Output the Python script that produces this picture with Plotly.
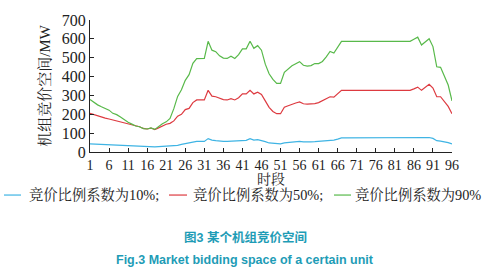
import plotly.graph_objects as go

periods = list(range(1, 97))

space_10 = [43, 42, 41, 40, 39, 38, 36, 35, 34, 33, 32, 31, 30, 29, 28, 27, 27, 27, 28, 29,
            30, 31, 33, 35, 40, 44, 50, 56, 56, 56, 56, 71, 63, 60, 57, 56, 56, 57, 56, 58,
            62, 62, 71, 63, 66, 62, 55, 48, 45, 43, 43, 48, 50, 53, 54, 56, 54, 53, 54, 55,
            56, 58, 61, 62, 63, 68, 75, 75, 75, 75, 75, 75, 75, 75, 75, 75, 75, 75, 75, 75,
            75, 75, 75, 75, 75, 75, 75, 75, 75, 77, 72, 60, 58, 56, 50, 43]

space_50 = [205, 198, 190, 185, 180, 175, 170, 165, 160, 155, 148, 142, 137, 134, 125, 122, 127, 119, 128, 138,
            147, 152, 165, 190, 200, 225, 231, 262, 276, 276, 276, 327, 296, 293, 284, 278, 276, 283, 276, 288,
            308, 308, 327, 308, 317, 305, 271, 237, 215, 203, 203, 237, 245, 254, 260, 266, 256, 254, 255, 257,
            262, 272, 284, 293, 291, 310, 327, 327, 327, 327, 327, 327, 327, 327, 327, 327, 327, 327, 327, 327,
            327, 327, 327, 327, 327, 335, 344, 327, 345, 359, 339, 293, 293, 266, 242, 203]

space_90 = [278, 262, 250, 240, 230, 222, 205, 198, 185, 170, 158, 148, 138, 134, 124, 122, 128, 120, 135, 150,
            160, 178, 230, 295, 330, 380, 410, 470, 495, 496, 496, 587, 540, 532, 510, 498, 496, 508, 496, 516,
            547, 547, 587, 550, 564, 540, 466, 415, 385, 364, 364, 423, 440, 457, 468, 479, 460, 455, 458, 469,
            469, 480, 505, 533, 525, 555, 587, 587, 587, 587, 587, 587, 587, 587, 587, 587, 587, 587, 587, 587,
            587, 587, 587, 587, 587, 598, 609, 567, 585, 601, 559, 452, 449, 406, 355, 271]

series_names = ["竞价比例系数为10%;", "竞价比例系数为50%;", "竞价比例系数为90%"]
series_colors = ["#3FB4E4", "#DD3A40", "#58B94A"]
x_ticks = list(range(1, 97, 5))
y_ticks = list(range(0, 701, 100))

SERIF = "Liberation Serif, 'Times New Roman', 'Noto Serif CJK SC', 'Noto Sans CJK SC', serif"
SANS = "'Liberation Sans', Arial, 'Noto Sans CJK SC', sans-serif"
TEAL = "#1E9CB6"

W, H = 494, 276
L, R, T, B = 90, 42, 14, 124
pw, ph = W - L - R, H - T - B


def px_x(p):
    return (p - L) / pw


def px_y(p):
    return (H - B - p) / ph


fig = go.Figure()
for vals, name, col in zip([space_10, space_50, space_90], series_names, series_colors):
    fig.add_trace(go.Scatter(x=periods, y=vals, mode="lines", name=name,
                             line=dict(color=col, width=1.2), showlegend=False))

# legend built as text + swatches
leg = [(4, 21, 27), (169, 187, 191), (334, 351, 353)]
for (x0, x1, xt), name, col in zip(leg, series_names, series_colors):
    fig.add_shape(type="line", xref="paper", yref="paper",
                  x0=px_x(x0), x1=px_x(x1), y0=px_y(197), y1=px_y(197),
                  line=dict(color=col, width=1.2))
    fig.add_annotation(text=name, xref="paper", yref="paper", x=px_x(xt), y=px_y(197),
                       xanchor="left", yanchor="middle", showarrow=False,
                       font=dict(family=SERIF, size=14.3, color="#222"))

fig.add_annotation(text="时段", xref="paper", yref="paper", x=px_x(271), y=px_y(171.5),
                   xanchor="center", yanchor="top", showarrow=False, borderpad=0,
                   font=dict(family=SERIF, size=14, color="#222"))
fig.add_annotation(text="<b>图3 某个机组竞价空间</b>", xref="paper", yref="paper",
                   x=px_x(245), y=px_y(241), xanchor="center", yanchor="middle", showarrow=False,
                   font=dict(family=SANS, size=12.5, color=TEAL))
fig.add_annotation(text="<b>Fig.3 Market bidding space of a certain unit</b>", xref="paper", yref="paper",
                   x=px_x(245), y=px_y(265), xanchor="center", yanchor="middle", showarrow=False,
                   font=dict(family=SANS, size=12.5, color=TEAL))

fig.update_layout(
    width=W, height=H,
    margin=dict(l=L, r=R, t=T, b=B),
    paper_bgcolor="white", plot_bgcolor="white",
    xaxis=dict(range=[1, 96], tickvals=x_ticks, ticktext=[str(v) for v in x_ticks],
               showgrid=False, zeroline=False, showline=True, linecolor="#222", linewidth=1,
               ticks="inside", ticklen=4, tickcolor="#222",
               tickfont=dict(family=SERIF, size=14, color="#222")),
    yaxis=dict(range=[0, 700], tickvals=y_ticks,
               showgrid=False, zeroline=False, showline=True, linecolor="#222", linewidth=1,
               ticks="inside", ticklen=4, tickcolor="#222",
               tickfont=dict(family=SERIF, size=16, color="#222"),
               title=dict(text="机组竞价空间/MW", standoff=7,
                          font=dict(family=SERIF, size=15, color="#222"))),
)

fig.write_html("out.html")
